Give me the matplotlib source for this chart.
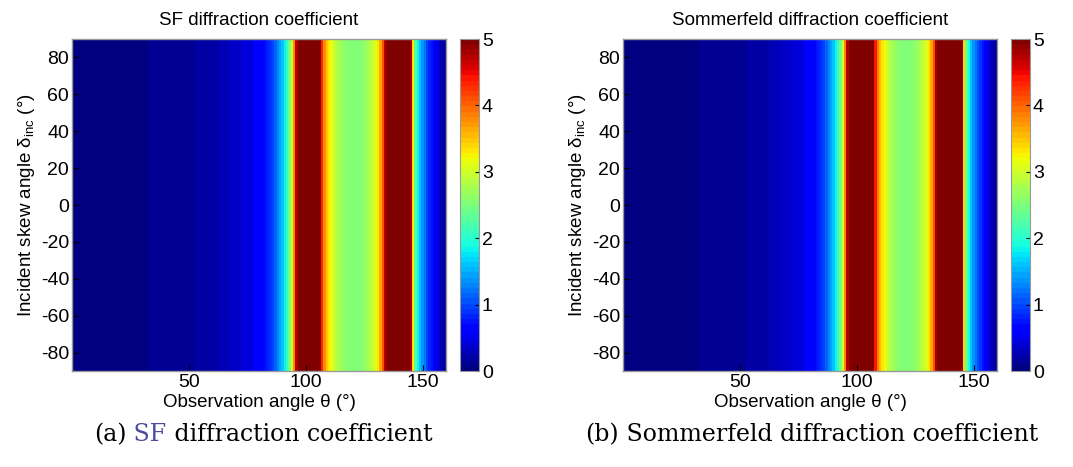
import matplotlib
matplotlib.use('Agg')
import matplotlib.pyplot as plt
import numpy as np

plt.rcParams['font.family'] = ['Liberation Sans', 'DejaVu Sans']
plt.rcParams['mathtext.fontset'] = 'custom'
plt.rcParams['mathtext.rm'] = 'Liberation Sans'
plt.rcParams['mathtext.it'] = 'Liberation Sans'
plt.rcParams['axes.unicode_minus'] = False

# observation angle samples (deg), coarse where the field is flat
theta = list(range(0, 80, 5)) + list(range(80, 161))
# incident skew angle samples (deg) - coefficient does not vary with it
delta = list(range(-90, 91, 10))

# SF coefficient (values above 5 are saturated)
sf_values = [0.04, 0.04, 0.04, 0.04, 0.04, 0.05, 0.06, 0.09, 0.11, 0.13, 0.15, 0.19, 0.23, 0.29, 0.36, 0.44,
             0.55, 0.6, 0.66, 0.73, 0.81, 0.9, 1.0, 1.12, 1.26, 1.42,
             1.6, 1.8, 2.05, 2.45, 3.0, 3.8, 4.7, 6, 6, 6,
             6, 6, 6, 6, 6, 6, 5.0, 4.3, 3.8, 3.5,
             3.3, 3.15, 3.0, 2.88, 2.78, 2.7, 2.63, 2.58, 2.54, 2.51,
             2.5, 2.5, 2.51, 2.53, 2.56, 2.61, 2.68, 2.76, 2.86, 2.98,
             3.12, 3.3, 3.6, 4.1, 4.7, 5.5, 6, 6, 6, 6,
             6, 6, 6, 6, 6, 4.8, 3.3, 2.3, 1.85, 1.58,
             1.38, 1.18, 1.0, 0.85, 0.72, 0.6, 0.48, 0.37, 0.27, 0.17,
             0.08]

# Sommerfeld coefficient
sommerfeld_values = [0.04, 0.04, 0.04, 0.04, 0.04, 0.05, 0.06, 0.09, 0.11, 0.13, 0.15, 0.19, 0.23, 0.29, 0.36, 0.44,
                     0.55, 0.6, 0.66, 0.73, 0.81, 0.9, 1.0, 1.12, 1.26, 1.42,
                     1.6, 1.8, 2.05, 2.45, 3.0, 3.8, 4.7, 6, 6, 6,
                     6, 6, 6, 6, 6, 6, 6, 5.0, 4.4, 3.9,
                     3.55, 3.32, 3.15, 3.0, 2.87, 2.76, 2.67, 2.6, 2.55, 2.51,
                     2.5, 2.5, 2.51, 2.53, 2.56, 2.61, 2.68, 2.76, 2.86, 2.98,
                     3.12, 3.3, 3.6, 4.1, 4.8, 5.6, 6, 6, 6, 6,
                     6, 6, 6, 6, 6, 4.9, 3.4, 2.4, 1.9, 1.62,
                     1.4, 1.2, 1.02, 0.86, 0.72, 0.6, 0.48, 0.37, 0.27, 0.17,
                     0.08]

x_ticks = [50, 100, 150]
y_ticks = [-80, -60, -40, -20, 0, 20, 40, 60, 80]
cbar_ticks = [0, 1, 2, 3, 4, 5]

W, H = 1073, 467


def px_rect(left, top, right, bottom):
    return [left / W, 1 - bottom / H, (right - left) / W, (bottom - top) / H]


def draw_panel(fig, ax_rect, cax_rect, values, title):
    ax = fig.add_axes(ax_rect)
    z = np.tile(values, (len(delta), 1))
    mesh = ax.pcolormesh(theta, delta, z, cmap=plt.get_cmap('jet', 64),
                         vmin=0, vmax=5, shading='nearest')
    ax.set_xlim(0, 160)
    ax.set_ylim(-90, 90)
    ax.set_xticks(x_ticks)
    ax.set_yticks(y_ticks)
    ax.tick_params(direction='in', length=4, labelsize=14, pad=2)
    for s in ax.spines.values():
        s.set_color('0.6')
        s.set_linewidth(1)
    ax.set_title(title, fontsize=13.5, pad=10)
    ax.set_xlabel('Observation angle \u03b8 (\u00b0)', fontsize=13.5, labelpad=2)
    ax.set_ylabel('Incident skew angle $\\delta_{\\rm inc}$ (\u00b0)', fontsize=13.5, labelpad=3)

    cax = fig.add_axes(cax_rect)
    cb = fig.colorbar(mesh, cax=cax, ticks=cbar_ticks)
    cb.outline.set_edgecolor('0.6')
    cax.tick_params(direction='in', length=3, labelsize=14, pad=2)
    return ax


def caption(fig, ax, x, tag, link, rest):
    font = dict(fontsize=17, family='DejaVu Serif')
    t = fig.text(x / W, 0.045, tag, va='bottom', **font)
    t = ax.annotate(link, xycoords=t, xy=(1, 0), va='bottom', color='#4f4a9e', **font)
    ax.annotate(rest, xycoords=t, xy=(1, 0), va='bottom', **font)


fig = plt.figure(figsize=(W / 100, H / 100), dpi=100)

ax1 = draw_panel(fig, px_rect(72, 39, 446, 371), px_rect(460, 39, 479, 371),
                 sf_values, 'SF diffraction coefficient')
ax2 = draw_panel(fig, px_rect(623, 39, 997, 371), px_rect(1011, 39, 1030, 371),
                 sommerfeld_values, 'Sommerfeld diffraction coefficient')

caption(fig, ax1, 94, '(a)', ' SF', ' diffraction coefficient')
caption(fig, ax2, 585, '(b)', '', ' Sommerfeld diffraction coefficient')

fig.savefig('out.png', dpi=100)
